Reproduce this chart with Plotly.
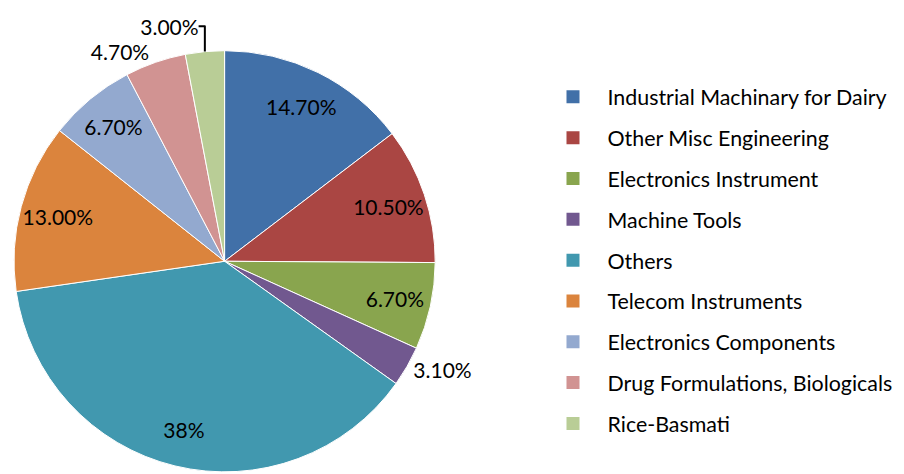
import plotly.graph_objects as go

categories = ["Industrial Machinary for Dairy", "Other Misc Engineering", "Electronics Instrument",
              "Machine Tools", "Others", "Telecom Instruments", "Electronics Components",
              "Drug Formulations, Biologicals", "Rice-Basmati"]
values = [14.7, 10.5, 6.7, 3.1, 38, 13, 6.7, 4.7, 3.0]
value_labels = ["14.70%", "10.50%", "6.70%", "3.10%", "38%", "13.00%", "6.70%", "4.70%", "3.00%"]
colors = ["#4170A8", "#AA4643", "#89A54E", "#71588F", "#4198AF", "#DB843D", "#93A9CF", "#D19392", "#B9CD96"]
text_positions = ["inside", "inside", "inside", "outside", "inside", "inside", "inside", "outside", "outside"]

FONT = "Lato"
W, H = 904, 474
dom = dict(x=[0 / W, 424 / W], y=[10 / H, 441 / H])

# base pie keeps only the outside labels (invisible) so both pies scale identically
base_positions = [p if p == "outside" else "none" for p in text_positions]

fig = go.Figure()
fig.add_trace(go.Pie(
    labels=categories, values=values, text=value_labels, textinfo="text",
    textposition=base_positions,
    sort=False, direction="clockwise", rotation=0,
    marker=dict(colors=colors, line=dict(color="white", width=1)),
    textfont=dict(family=FONT, size=21, color="rgba(0,0,0,0)"),
    showlegend=False, hoverinfo="label+text", domain=dom,
))
# label pie: transparent ring that places the value labels further out
fig.add_trace(go.Pie(
    labels=categories, values=values, text=value_labels, textinfo="text",
    textposition=text_positions, insidetextorientation="horizontal",
    sort=False, direction="clockwise", rotation=0, hole=0.64,
    marker=dict(colors=["rgba(0,0,0,0)"] * len(values), line=dict(width=0)),
    textfont=dict(family=FONT, size=21, color="black"),
    showlegend=False, hoverinfo="skip", domain=dom,
))
for cat, col in zip(categories, colors):
    fig.add_trace(go.Scatter(
        x=[None], y=[None], mode="markers", name=cat, legendgroup=cat,
        marker=dict(symbol="square", size=13, color=col),
    ))

fig.update_layout(
    width=W, height=H, margin=dict(l=0, r=0, t=0, b=0),
    paper_bgcolor="white", plot_bgcolor="white",
    xaxis=dict(visible=False), yaxis=dict(visible=False),
    uniformtext=dict(minsize=21, mode="show"),
    legend=dict(x=528 / W, y=0.874, xanchor="left", yanchor="top",
                font=dict(family=FONT, size=21.4, color="black"),
                traceorder="grouped", tracegroupgap=10, itemwidth=59),
    font=dict(family=FONT),
)
fig.write_html("out.html")
